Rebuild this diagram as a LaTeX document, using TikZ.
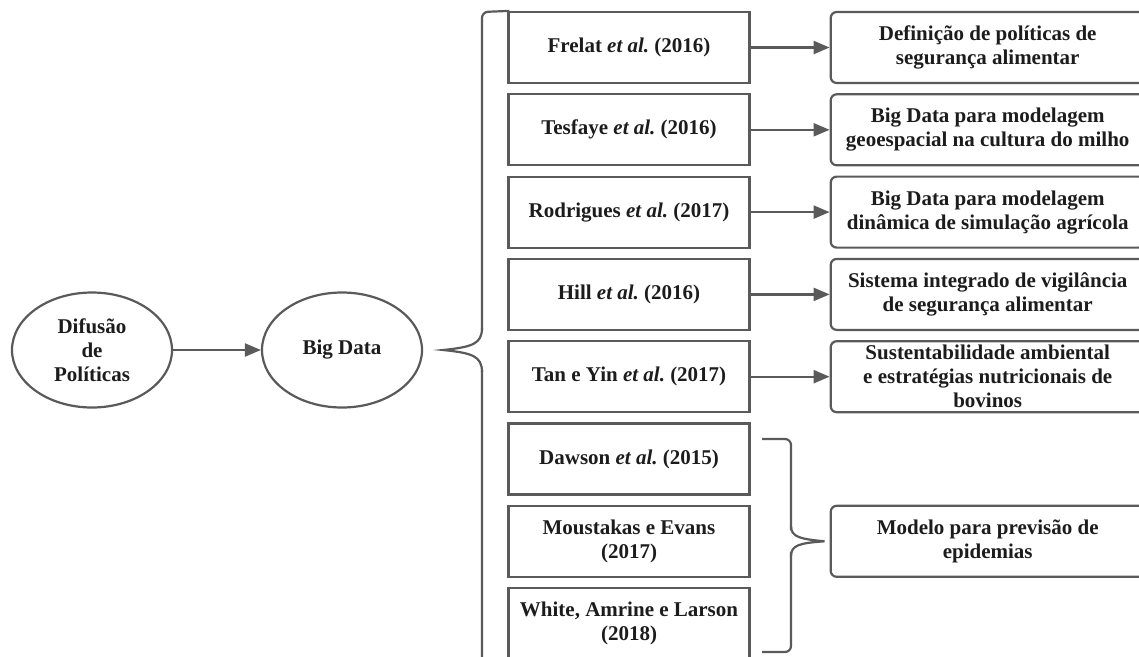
\documentclass[tikz,border=0pt]{standalone}
\usepackage{fontspec}
\setmainfont{Liberation Serif}
\usepackage{xcolor}
\usepackage{tikz}
\usetikzlibrary{arrows.meta, positioning, shapes.geometric}

\definecolor{linegray}{RGB}{90,90,90}
\definecolor{textdark}{RGB}{28,28,28}

\begin{document}
\begin{tikzpicture}[
        x=1pt, y=-1pt,
        every node/.style={text=textdark, font=\fontsize{21}{24}\selectfont\bfseries},
        oval/.style={draw=linegray, line width=2.2pt, ellipse, minimum width=160pt, minimum height=115pt, align=center, inner sep=0pt},
        ref/.style={draw=linegray, line width=2.2pt, rectangle, minimum width=241pt, minimum height=71pt, align=center, inner sep=2pt},
        topic/.style={draw=linegray, line width=2.2pt, rectangle, rounded corners=6pt, minimum width=314pt, minimum height=71pt, align=center, inner sep=2pt},
        link/.style={draw=linegray, line width=2.2pt, -{Triangle[length=16pt, width=13pt]}},
        brace/.style={draw=linegray, line width=2.2pt},
        node distance=9.1pt
    ]
        \clip (0,0) rectangle (1139,656);

        \node[oval] (difusao) at (92,350) {Difusão\\de\\Políticas};
        \node[oval] (bigdata) at (342,350) {Big Data};

        \node[ref] (frelat) at (629,47.5) {Frelat \textit{et al.}\ (2016)};
        \node[ref, below=of frelat] (tesfaye) {Tesfaye \textit{et al.}\ (2016)};
        \node[ref, below=of tesfaye] (rodrigues) {Rodrigues \textit{et al.}\ (2017)};
        \node[ref, below=of rodrigues] (hill) {Hill \textit{et al.}\ (2016)};
        \node[ref, below=of hill] (tanyin) {Tan e Yin \textit{et al.}\ (2017)};
        \node[ref, below=of tanyin] (dawson) {Dawson \textit{et al.}\ (2015)};
        \node[ref, below=of dawson] (moustakas) {Moustakas e Evans\\(2017)};
        \node[ref, below=of moustakas] (white) {White, Amrine e Larson\\(2018)};

        \node[topic, right=79pt of frelat] (politicas) {Definição de políticas de\\segurança alimentar};
        \node[topic, right=79pt of tesfaye] (geoespacial) {Big Data para modelagem\\geoespacial na cultura do milho};
        \node[topic, right=79pt of rodrigues] (simulacao) {Big Data para modelagem\\dinâmica de simulação agrícola};
        \node[topic, right=79pt of hill] (vigilancia) {Sistema integrado de vigilância\\de segurança alimentar};
        \node[topic, right=79pt of tanyin] (bovinos) {Sustentabilidade ambiental\\e estratégias nutricionais de\\bovinos};
        \node[topic, right=79pt of moustakas] (epidemias) {Modelo para previsão de\\epidemias};

        \draw[link] (difusao) -- (bigdata);
        \draw[link] (frelat) -- (politicas);
        \draw[link] (tesfaye) -- (geoespacial);
        \draw[link] (rodrigues) -- (simulacao);
        \draw[link] (hill) -- (vigilancia);
        \draw[link] (tanyin) -- (bovinos);

        % big brace
        \coordinate (bigtip) at ([xshift=20pt]bigdata.east);
        \draw[brace, rounded corners=6pt] ([xshift=2pt]frelat.north west) -- (482,12) -- (482,330);
        \draw[brace] (482,328) .. controls (482,344) and (472,347) .. (bigtip)
            .. controls (472,353) and (482,356) .. (482,372);
        \draw[brace, rounded corners=6pt] (482,370) -- (482,680) -- ([xshift=2pt]white.south west |- 0,680);

        % small brace
        \coordinate (smalltip) at ([xshift=-5pt]epidemias.west);
        \draw[brace, rounded corners=6pt] (762,439) -- (791,439) -- (791,530);
        \draw[brace] (791,526) .. controls (791,537) and (800,539) .. (smalltip)
            .. controls (800,543) and (791,545) .. (791,556);
        \draw[brace, rounded corners=6pt] (791,552) -- (791,652) -- (762,652);
\end{tikzpicture}
\end{document}
